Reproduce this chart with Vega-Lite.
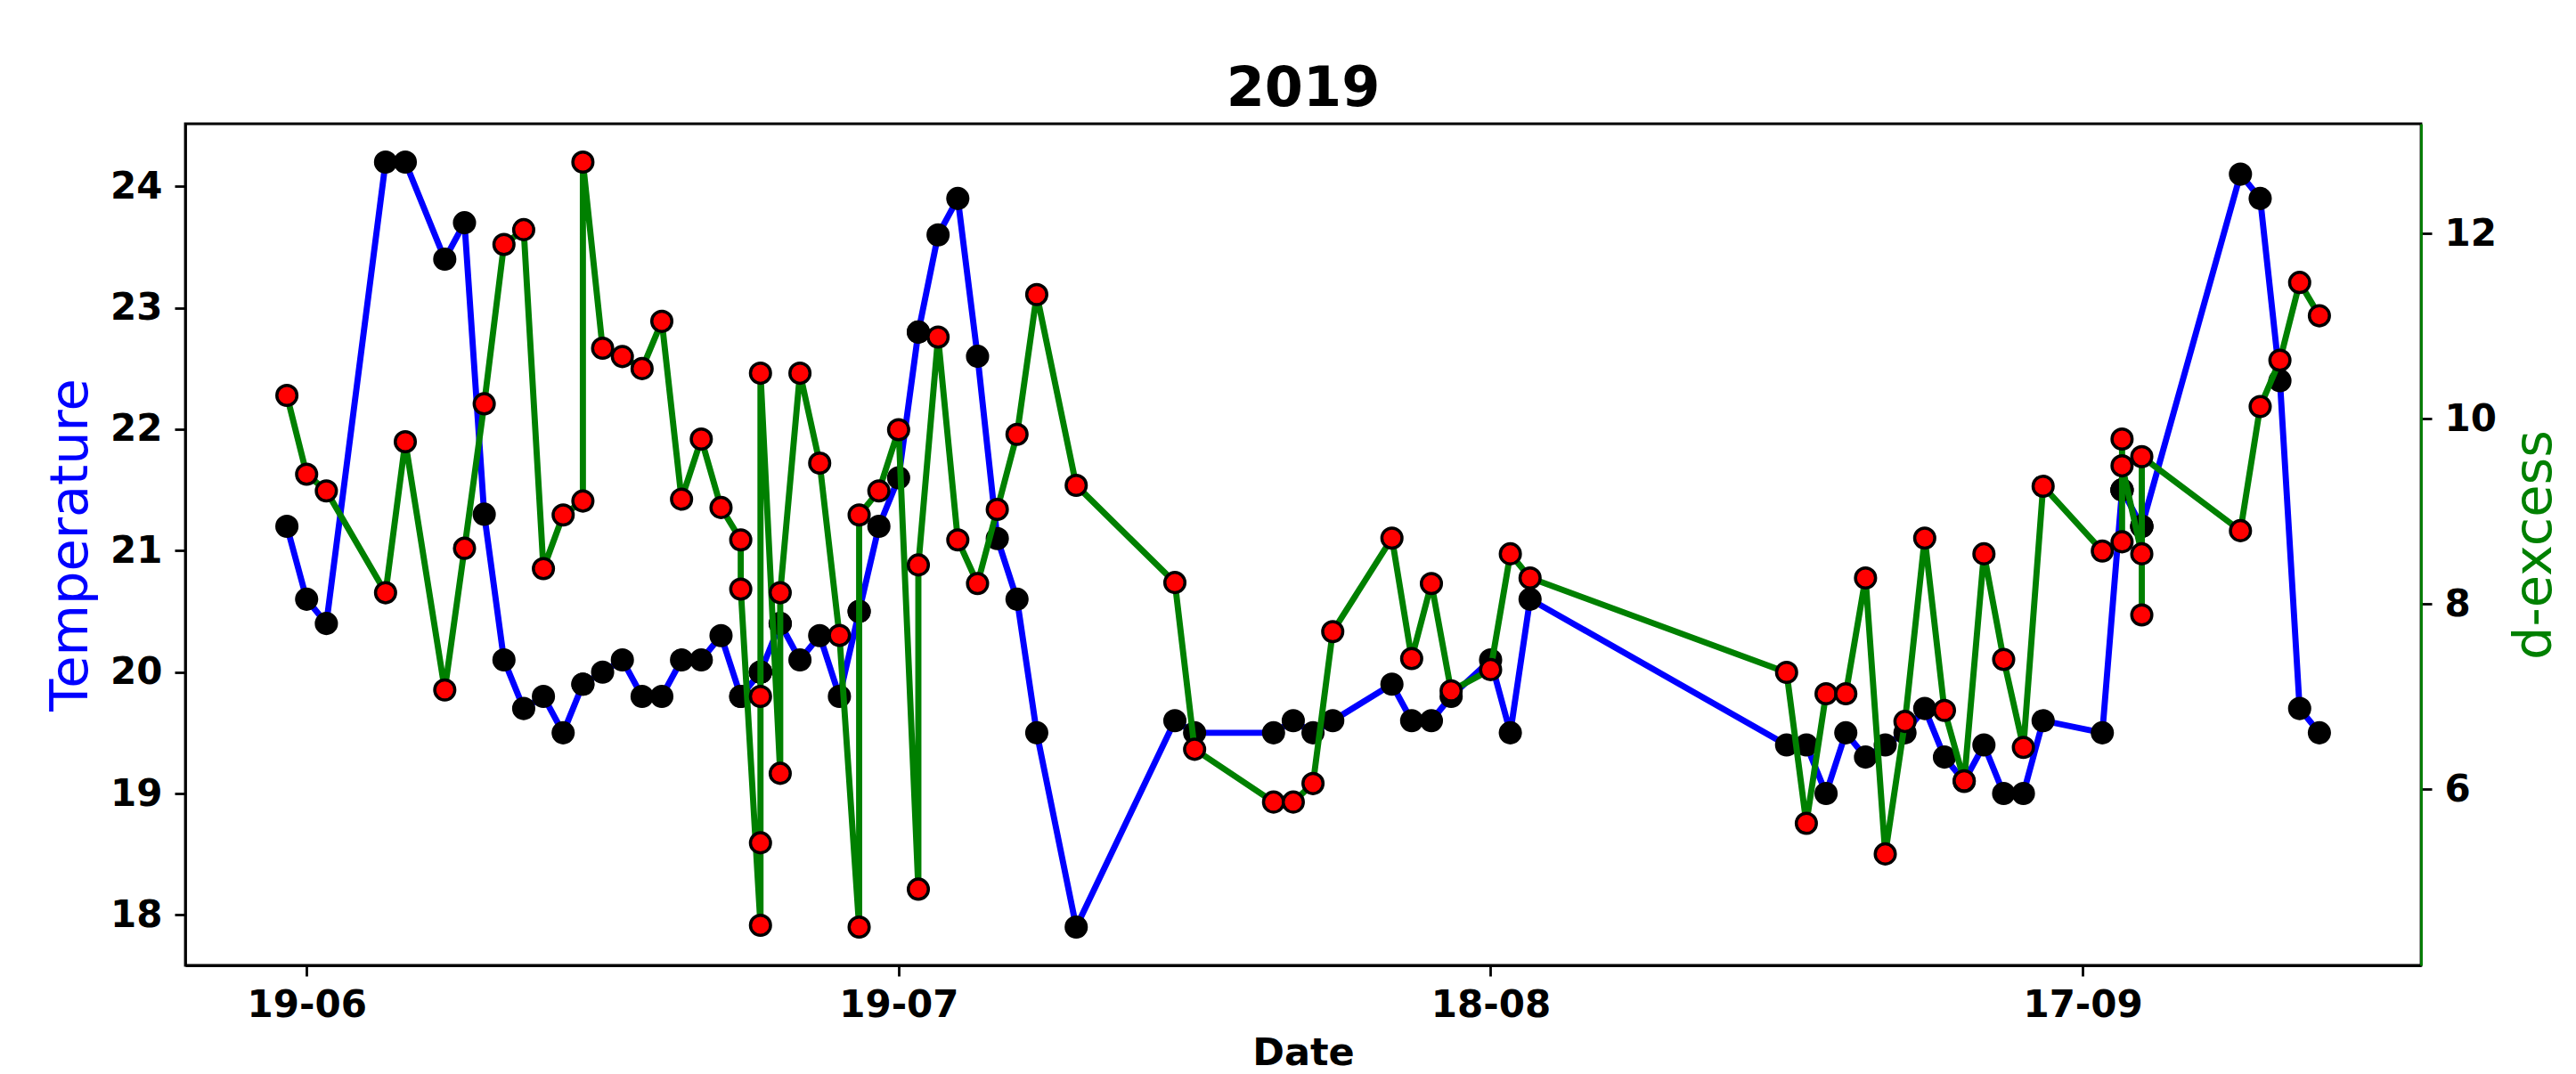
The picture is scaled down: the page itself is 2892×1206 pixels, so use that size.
{
  "$schema": "https://vega.github.io/schema/vega-lite/v6.json",
  "width": 2510,
  "height": 945,
  "autosize": {"type": "none"},
  "padding": {"left": 208, "top": 139, "right": 174, "bottom": 122},
  "background": "white",
  "title": {
    "text": "2019",
    "font": "DejaVu Sans",
    "fontSize": 62,
    "fontWeight": "bold",
    "color": "black",
    "anchor": "middle",
    "frame": "group",
    "baseline": "alphabetic",
    "offset": -42
  },
  "data": {
    "values": [
      {"date": "2019-06-18", "temperature": 21.2, "d_excess": 10.25},
      {"date": "2019-06-19", "temperature": 20.6, "d_excess": 9.40},
      {"date": "2019-06-20", "temperature": 20.4, "d_excess": 9.22},
      {"date": "2019-06-23", "temperature": 24.2, "d_excess": 8.12},
      {"date": "2019-06-24", "temperature": 24.2, "d_excess": 9.75},
      {"date": "2019-06-26", "temperature": 23.4, "d_excess": 7.07},
      {"date": "2019-06-27", "temperature": 23.7, "d_excess": 8.60},
      {"date": "2019-06-28", "temperature": 21.3, "d_excess": 10.16},
      {"date": "2019-06-29", "temperature": 20.1, "d_excess": 11.88},
      {"date": "2019-06-30", "temperature": 19.7, "d_excess": 12.04},
      {"date": "2019-07-01", "temperature": 19.8, "d_excess": 8.38},
      {"date": "2019-07-02", "temperature": 19.5, "d_excess": 8.96},
      {"date": "2019-07-03", "temperature": 19.9, "d_excess": 9.11},
      {"date": "2019-07-03", "temperature": 19.9, "d_excess": 12.77},
      {"date": "2019-07-04", "temperature": 20.0, "d_excess": 10.76},
      {"date": "2019-07-05", "temperature": 20.1, "d_excess": 10.67},
      {"date": "2019-07-06", "temperature": 19.8, "d_excess": 10.54},
      {"date": "2019-07-07", "temperature": 19.8, "d_excess": 11.05},
      {"date": "2019-07-08", "temperature": 20.1, "d_excess": 9.13},
      {"date": "2019-07-09", "temperature": 20.1, "d_excess": 9.78},
      {"date": "2019-07-10", "temperature": 20.3, "d_excess": 9.04},
      {"date": "2019-07-11", "temperature": 19.8, "d_excess": 8.69},
      {"date": "2019-07-11", "temperature": 19.8, "d_excess": 8.16},
      {"date": "2019-07-12", "temperature": 20.0, "d_excess": 4.53},
      {"date": "2019-07-12", "temperature": 20.0, "d_excess": 5.42},
      {"date": "2019-07-12", "temperature": 20.0, "d_excess": 7.00},
      {"date": "2019-07-12", "temperature": 20.0, "d_excess": 10.49},
      {"date": "2019-07-13", "temperature": 20.4, "d_excess": 6.17},
      {"date": "2019-07-13", "temperature": 20.4, "d_excess": 8.12},
      {"date": "2019-07-14", "temperature": 20.1, "d_excess": 10.49},
      {"date": "2019-07-15", "temperature": 20.3, "d_excess": 9.52},
      {"date": "2019-07-16", "temperature": 19.8, "d_excess": 7.66},
      {"date": "2019-07-17", "temperature": 20.5, "d_excess": 4.51},
      {"date": "2019-07-17", "temperature": 20.5, "d_excess": 8.96},
      {"date": "2019-07-18", "temperature": 21.2, "d_excess": 9.22},
      {"date": "2019-07-19", "temperature": 21.6, "d_excess": 9.88},
      {"date": "2019-07-20", "temperature": 22.8, "d_excess": 4.92},
      {"date": "2019-07-20", "temperature": 22.8, "d_excess": 8.42},
      {"date": "2019-07-21", "temperature": 23.6, "d_excess": 10.88},
      {"date": "2019-07-22", "temperature": 23.9, "d_excess": 8.69},
      {"date": "2019-07-23", "temperature": 22.6, "d_excess": 8.22},
      {"date": "2019-07-24", "temperature": 21.1, "d_excess": 9.02},
      {"date": "2019-07-25", "temperature": 20.6, "d_excess": 9.83},
      {"date": "2019-07-26", "temperature": 19.5, "d_excess": 11.34},
      {"date": "2019-07-28", "temperature": 17.9, "d_excess": 9.28},
      {"date": "2019-08-02", "temperature": 19.6, "d_excess": 8.23},
      {"date": "2019-08-03", "temperature": 19.5, "d_excess": 6.43},
      {"date": "2019-08-07", "temperature": 19.5, "d_excess": 5.86},
      {"date": "2019-08-08", "temperature": 19.6, "d_excess": 5.86},
      {"date": "2019-08-09", "temperature": 19.5, "d_excess": 6.06},
      {"date": "2019-08-10", "temperature": 19.6, "d_excess": 7.70},
      {"date": "2019-08-13", "temperature": 19.9, "d_excess": 8.71},
      {"date": "2019-08-14", "temperature": 19.6, "d_excess": 7.41},
      {"date": "2019-08-15", "temperature": 19.6, "d_excess": 8.22},
      {"date": "2019-08-16", "temperature": 19.8, "d_excess": 7.06},
      {"date": "2019-08-18", "temperature": 20.1, "d_excess": 7.29},
      {"date": "2019-08-19", "temperature": 19.5, "d_excess": 8.54},
      {"date": "2019-08-20", "temperature": 20.6, "d_excess": 8.28},
      {"date": "2019-09-02", "temperature": 19.4, "d_excess": 7.26},
      {"date": "2019-09-03", "temperature": 19.4, "d_excess": 5.63},
      {"date": "2019-09-04", "temperature": 19.0, "d_excess": 7.03},
      {"date": "2019-09-05", "temperature": 19.5, "d_excess": 7.03},
      {"date": "2019-09-06", "temperature": 19.3, "d_excess": 8.28},
      {"date": "2019-09-07", "temperature": 19.4, "d_excess": 5.30},
      {"date": "2019-09-08", "temperature": 19.5, "d_excess": 6.73},
      {"date": "2019-09-09", "temperature": 19.7, "d_excess": 8.71},
      {"date": "2019-09-10", "temperature": 19.3, "d_excess": 6.85},
      {"date": "2019-09-11", "temperature": 19.1, "d_excess": 6.09},
      {"date": "2019-09-12", "temperature": 19.4, "d_excess": 8.54},
      {"date": "2019-09-13", "temperature": 19.0, "d_excess": 7.40},
      {"date": "2019-09-14", "temperature": 19.0, "d_excess": 6.45},
      {"date": "2019-09-15", "temperature": 19.6, "d_excess": 9.27},
      {"date": "2019-09-18", "temperature": 19.5, "d_excess": 8.57},
      {"date": "2019-09-19", "temperature": 21.5, "d_excess": 8.67},
      {"date": "2019-09-19", "temperature": 21.5, "d_excess": 9.78},
      {"date": "2019-09-19", "temperature": 21.5, "d_excess": 9.49},
      {"date": "2019-09-20", "temperature": 21.2, "d_excess": 8.54},
      {"date": "2019-09-20", "temperature": 21.2, "d_excess": 7.88},
      {"date": "2019-09-20", "temperature": 21.2, "d_excess": 9.59},
      {"date": "2019-09-25", "temperature": 24.1, "d_excess": 8.79},
      {"date": "2019-09-26", "temperature": 23.9, "d_excess": 10.13},
      {"date": "2019-09-27", "temperature": 22.4, "d_excess": 10.63},
      {"date": "2019-09-28", "temperature": 19.7, "d_excess": 11.47},
      {"date": "2019-09-29", "temperature": 19.5, "d_excess": 11.11}
    ]
  },
  "encoding": {
    "x": {
      "field": "date",
      "type": "temporal",
      "scale": {
        "type": "utc",
        "domain": [
          {"year": 2019, "month": 6, "date": 12, "hours": 20, "minutes": 24, "utc": true},
          {"year": 2019, "month": 10, "date": 4, "hours": 3, "minutes": 36, "utc": true}
        ]
      },
      "axis": {
        "title": "Date",
        "titleFontSize": 43,
        "titleFontWeight": "bold",
        "titleColor": "black",
        "titlePadding": 12,
        "format": "%d-%m",
        "labelPadding": 12,
        "values": [
          {"year": 2019, "month": 6, "date": 19, "utc": true},
          {"year": 2019, "month": 7, "date": 19, "utc": true},
          {"year": 2019, "month": 8, "date": 18, "utc": true},
          {"year": 2019, "month": 9, "date": 17, "utc": true}
        ]
      }
    }
  },
  "layer": [
    {
      "encoding": {
        "y": {
          "field": "temperature",
          "type": "quantitative",
          "scale": {"domain": [17.585, 24.515], "zero": false, "nice": false},
          "axis": {
            "orient": "left",
            "title": "Temperature",
            "titleColor": "blue",
            "titleFontSize": 59,
            "titleFontWeight": "normal",
            "titlePadding": 14,
            "values": [18, 19, 20, 21, 22, 23, 24]
          }
        }
      },
      "layer": [
        {"mark": {"type": "line", "color": "blue", "strokeWidth": 6.9}, "encoding": {"order": {"value": null}}},
        {"mark": {"type": "point", "shape": "circle", "filled": true, "fill": "black", "stroke": "black", "strokeWidth": 3.5, "size": 510, "opacity": 1}}
      ]
    },
    {
      "encoding": {
        "y": {
          "field": "d_excess",
          "type": "quantitative",
          "scale": {"domain": [4.097, 13.183], "zero": false, "nice": false},
          "axis": {
            "orient": "right",
            "title": "d-excess",
            "titleColor": "green",
            "titleFontSize": 59,
            "titleFontWeight": "normal",
            "titleAngle": 270,
            "titleBaseline": "top",
            "titlePadding": 14,
            "domainColor": "green",
            "values": [6, 8, 10, 12]
          }
        }
      },
      "layer": [
        {"mark": {"type": "line", "color": "green", "strokeWidth": 6.9}, "encoding": {"order": {"value": null}}},
        {"mark": {"type": "point", "shape": "circle", "filled": true, "fill": "red", "stroke": "black", "strokeWidth": 3.5, "size": 510, "opacity": 1}}
      ]
    }
  ],
  "resolve": {"scale": {"y": "independent"}},
  "config": {
    "font": "DejaVu Sans",
    "view": {"stroke": "black", "strokeWidth": 2.8},
    "axis": {
      "grid": false,
      "domainColor": "black",
      "domainWidth": 2.8,
      "tickColor": "black",
      "tickWidth": 2.8,
      "tickSize": 12,
      "labelFont": "DejaVu Sans",
      "labelFontSize": 42,
      "labelFontWeight": "bold",
      "labelColor": "black",
      "labelPadding": 14,
      "titleFont": "DejaVu Sans"
    }
  }
}
